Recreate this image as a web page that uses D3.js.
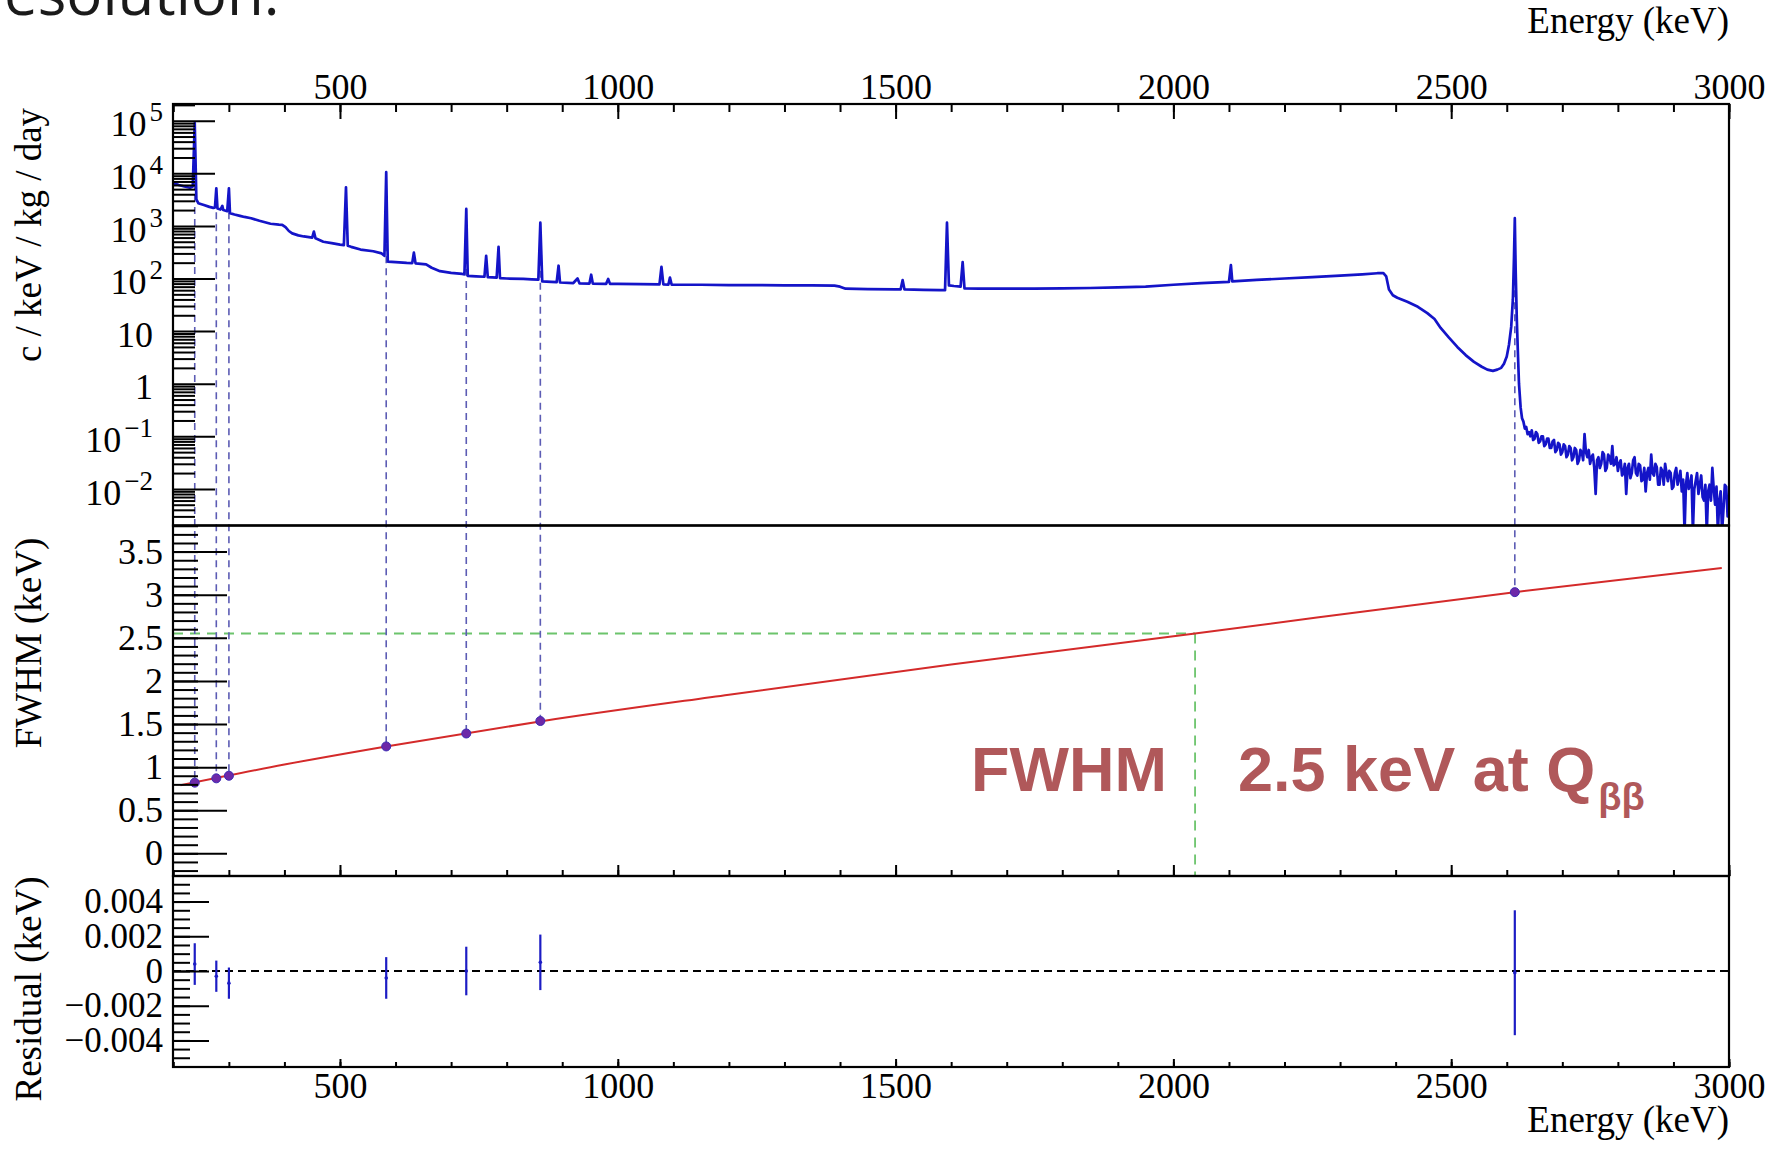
<!DOCTYPE html>
<html>
<head>
<meta charset="utf-8">
<script src="https://cdn.jsdelivr.net/npm/d3@7"></script>
<style>
  body { margin: 0; background: #fff; }
</style>
</head>
<body>
<div id="chart"></div>
<script>
////////////////////////////////////////////////////////////////////////
// Data

// Th-228 calibration spectrum: energy (keV) and counts (c/keV/kg/day)
let specE = [200, 210, 220, 230, 235, 238.6, 241.5, 245, 255, 265, 272, 275, 277.4, 279.5,
  285, 288.2, 290, 297, 300.1, 302, 310, 320, 328, 340, 355, 375, 390, 396, 402, 408, 414,
  425, 435, 450, 453, 456, 470, 485, 500, 507, 510.8, 514, 520, 537, 560, 575, 580, 583.2,
  586, 600, 620, 630, 633, 636, 655, 665, 680, 700, 720, 724, 727.3, 730, 745, 760, 763.1,
  766, 782, 785.4, 788, 800, 830, 845, 857, 860.6, 864, 880, 890, 893.4, 896, 920, 927.6,
  931, 949, 952.1, 955, 979, 982.7, 986, 1000, 1040, 1075, 1078.6, 1082, 1091, 1093.9, 1097,
  1150, 1200, 1250, 1300, 1350, 1390, 1400, 1410, 1450, 1500, 1509, 1512.7, 1516, 1550,
  1580, 1589, 1592.5, 1596, 1605, 1617, 1620.7, 1624, 1650, 1700, 1750, 1800, 1850, 1900,
  1950, 2000, 2050, 2100, 2103.5, 2106, 2150, 2200, 2250, 2300, 2340, 2367, 2378, 2383,
  2388, 2395, 2403, 2421, 2440, 2457, 2470, 2481, 2496, 2511, 2526, 2541, 2555, 2565, 2575,
  2583, 2590, 2595, 2600, 2604, 2608, 2611, 2613, 2614.5, 2616, 2618, 2620, 2622];
let specC = [6500, 6000, 5600, 5300, 5600, 90000, 3200, 2700, 2500, 2300, 2200, 2250, 5200, 2150,
  2050, 2400, 2000, 1900, 5200, 1750, 1650, 1550, 1480, 1400, 1250, 1100, 1060, 1050, 950, 800, 720,
  660, 630, 600, 780, 580, 500, 470, 440, 430, 5400, 420, 400, 355, 330, 300, 270, 10500,
  210, 205, 198, 196, 310, 194, 185, 160, 138, 128, 122, 120, 2100, 112, 110, 108, 270,
  106, 104, 400, 102, 100, 98, 96, 95, 1150, 88, 86, 85, 175, 84, 82, 100,
  81, 80, 118, 80, 79, 98, 79, 79, 78, 77, 166, 77, 76, 104, 76,
  76, 75, 75, 74, 74, 73, 70, 64, 63, 62, 62, 93, 62, 61,
  60, 60, 1150, 74, 72, 70, 205, 65, 64, 64, 64, 65, 66, 68,
  70, 76, 82, 86, 180, 88, 94, 100, 106, 113, 120, 126, 126, 110,
  62, 48, 43, 36, 29, 22, 17, 11.5, 7.5, 5.0, 3.5, 2.6, 2.1, 1.85, 1.75,
  1.85, 2.0, 2.4, 3.3, 5.5, 12, 40, 250, 1400, 150, 18, 4, 1.0];

// noisy tail above the 2614 keV line, 2.5 keV bins from 2625 to 3000 keV
let tailStart = 2625, tailStep = 2.5;
let tailC = [
  0.35, 0.22, 0.19, 0.14, 0.15, 0.11, 0.12, 0.10, 0.13, 0.085,
  0.09, 0.12, 0.11, 0.075, 0.08, 0.10, 0.10, 0.065, 0.07, 0.09,
  0.09, 0.06, 0.06, 0.08, 0.085, 0.05, 0.055, 0.075, 0.07, 0.045,
  0.05, 0.07, 0.065, 0.04, 0.045, 0.065, 0.06, 0.035, 0.04, 0.06,
  0.055, 0.03, 0.035, 0.055, 0.05, 0.035, 0.11, 0.05, 0.04, 0.055,
  0.03, 0.04, 0.045, 0.025, 0.008, 0.035, 0.04, 0.025, 0.03, 0.05,
  0.045, 0.022, 0.025, 0.045, 0.04, 0.03, 0.065, 0.028, 0.03, 0.04,
  0.022, 0.03, 0.035, 0.018, 0.02, 0.03, 0.008, 0.025, 0.03, 0.016,
  0.02, 0.035, 0.04, 0.02, 0.018, 0.03, 0.028, 0.014, 0.015, 0.025,
  0.009, 0.02, 0.025, 0.015, 0.045, 0.02, 0.018, 0.03, 0.026, 0.012,
  0.012, 0.025, 0.022, 0.012, 0.03, 0.02, 0.014, 0.022, 0.02, 0.01,
  0.011, 0.02, 0.025, 0.012, 0.016, 0.022, 0.009, 0.015, 0.0015, 0.012,
  0.02, 0.01, 0.012, 0.018, 0.0015, 0.01, 0.014, 0.02, 0.008, 0.012,
  0.018, 0.007, 0.006, 0.012, 0.0015, 0.009, 0.012, 0.006, 0.025, 0.01,
  0.005, 0.011, 0.0015, 0.006, 0.009, 0.0015, 0.004, 0.012, 0.011, 0.003,
  0.004];

// calibration peaks used for the resolution curve
let calE = [238.6, 277.4, 300.1, 583.2, 727.3, 860.6, 2614.5];
let calTop = [90000, 5200, 5200, 10500, 2100, 1150, 1400];
let calFwhm = [0.82, 0.87, 0.90, 1.24, 1.39, 1.535, 3.03];
let calRes = [0.0004, -0.0003, -0.0007, -0.0004, 0.0000, 0.0005, -0.0001];
let calResErr = [0.0012, 0.0009, 0.0009, 0.0012, 0.0014, 0.0016, 0.0036];

// fitted resolution curve
let fitE = [213, 400, 583, 860, 1200, 1600, 2039, 2614, 2987];
let fitW = [0.79, 1.03, 1.24, 1.53, 1.84, 2.19, 2.55, 3.03, 3.31];

// Q-beta-beta marker
let qbbE = 2039;
let qbbW = 2.55;

// tick labels
let xTicks = [500, 1000, 1500, 2000, 2500, 3000];
let logTicks = [1e5, 1e4, 1e3, 1e2, 10, 1, 0.1, 0.01];
let logLabels = [["10", "5"], ["10", "4"], ["10", "3"], ["10", "2"], ["10", ""], ["1", ""], ["10", "\u22121"], ["10", "\u22122"]];
let fwhmTicks = [0, 0.5, 1, 1.5, 2, 2.5, 3, 3.5];
let fwhmLabels = ["0", "0.5", "1", "1.5", "2", "2.5", "3", "3.5"];
let resTicks = [0.004, 0.002, 0, -0.002, -0.004];
let resLabels = ["0.004", "0.002", "0", "\u22120.002", "\u22120.004"];

////////////////////////////////////////////////////////////////////////
// Layout and scales

let width = 1770;
let height = 1162;
let serif = "'Liberation Serif', 'Times New Roman', serif";

let left = 173, right = 1729;
let topY = 104, sep1 = 525.5, sep2 = 876, bottomY = 1067;

let svg = d3.select("#chart")
  .append("svg")
  .attr("width", width).attr("height", height)
  .style("background", "#fff");

let xScale = d3.scaleLinear().domain([200, 3000]).range([173.3, right]);
let yTop = d3.scaleLog().domain([0.002014, 2.078e5]).range([sep1, topY]);
let yMid = d3.scaleLinear().domain([-0.263, 3.803]).range([sep2, sep1]);
let yRes = d3.scaleLinear().domain([-0.005533, 0.005476]).range([bottomY, sep2]);

// slide text cut at the top of the picture
svg.append("text")
  .attr("x", 4).attr("y", 15)
  .attr("font-family", "'Open Sans', 'Noto Sans', sans-serif")
  .attr("font-size", 60)
  .attr("fill", "#1a1a1a")
  .text("esolution.");

////////////////////////////////////////////////////////////////////////
// Guide lines (drawn first so the ticks and curves sit on top)

// green Qbb lines
svg.append("line")
  .attr("x1", left).attr("x2", xScale(qbbE))
  .attr("y1", yMid(qbbW)).attr("y2", yMid(qbbW))
  .attr("stroke", "#6cc46c").attr("stroke-width", 1.8)
  .attr("stroke-dasharray", "10,7");
svg.append("line")
  .attr("x1", xScale(qbbE)).attr("x2", xScale(qbbE))
  .attr("y1", yMid(qbbW)).attr("y2", sep2)
  .attr("stroke", "#6cc46c").attr("stroke-width", 1.8)
  .attr("stroke-dasharray", "10,7");

// dashed lines from each calibration peak down to its FWHM point
svg.append("g")
  .selectAll("line")
  .data(calE)
  .enter()
  .append("line")
  .attr("x1", d => xScale(d)).attr("x2", d => xScale(d))
  .attr("y1", (d, i) => yTop(calTop[i]))
  .attr("y2", (d, i) => yMid(calFwhm[i]))
  .attr("stroke", "#5c5cb4").attr("stroke-width", 1.6)
  .attr("stroke-dasharray", "7,5");

////////////////////////////////////////////////////////////////////////
// Top panel: spectrum

svg.append("clipPath").attr("id", "clipTop")
  .append("rect")
  .attr("x", left).attr("y", topY)
  .attr("width", right - left).attr("height", sep1 - topY);

let specData = specE.map((e, i) => [e, specC[i]])
  .concat(tailC.map((c, i) => [tailStart + i * tailStep, c]));

let specLine = d3.line()
  .x(d => xScale(d[0]))
  .y(d => yTop(d[1]));

svg.append("path")
  .datum(specData)
  .attr("clip-path", "url(#clipTop)")
  .attr("d", specLine)
  .attr("fill", "none")
  .attr("stroke", "#1414c8")
  .attr("stroke-width", 2.7)
  .attr("stroke-linejoin", "round");

////////////////////////////////////////////////////////////////////////
// Middle panel: FWHM and fit

let fitLine = d3.line()
  .curve(d3.curveMonotoneX)
  .x(d => xScale(d[0]))
  .y(d => yMid(d[1]));

svg.append("path")
  .datum(fitE.map((e, i) => [e, fitW[i]]))
  .attr("d", fitLine)
  .attr("fill", "none")
  .attr("stroke", "#d42a2a")
  .attr("stroke-width", 2);

svg.append("g")
  .selectAll("circle")
  .data(calE)
  .enter()
  .append("circle")
  .attr("cx", d => xScale(d))
  .attr("cy", (d, i) => yMid(calFwhm[i]))
  .attr("r", 4.5)
  .attr("fill", "#6d28a8")
  .attr("stroke", "#3c2ab4")
  .attr("stroke-width", 1);

// annotation
svg.append("text")
  .attr("x", 971).attr("y", 791)
  .attr("font-family", "'Liberation Sans', Arial, sans-serif")
  .attr("font-weight", "bold")
  .attr("font-size", 63)
  .attr("fill", "#b0585a")
  .text("FWHM");
let ann = svg.append("text")
  .attr("x", 1238).attr("y", 791)
  .attr("font-family", "'Liberation Sans', Arial, sans-serif")
  .attr("font-weight", "bold")
  .attr("font-size", 63)
  .attr("fill", "#b0585a");
ann.append("tspan").text("2.5 keV at Q");
ann.append("tspan").attr("dy", 19).attr("dx", 3).attr("font-size", 38).text("\u03b2\u03b2");

////////////////////////////////////////////////////////////////////////
// Bottom panel: residuals

svg.append("line")
  .attr("x1", left).attr("x2", right)
  .attr("y1", yRes(0)).attr("y2", yRes(0))
  .attr("stroke", "#000").attr("stroke-width", 1.8)
  .attr("stroke-dasharray", "8,5");

let resG = svg.append("g");
resG.selectAll("line")
  .data(calE)
  .enter()
  .append("line")
  .attr("x1", d => xScale(d)).attr("x2", d => xScale(d))
  .attr("y1", (d, i) => yRes(calRes[i] + calResErr[i]))
  .attr("y2", (d, i) => yRes(calRes[i] - calResErr[i]))
  .attr("stroke", "#1c1cc4").attr("stroke-width", 2.2);
resG.selectAll("circle")
  .data(calE)
  .enter()
  .append("circle")
  .attr("cx", d => xScale(d))
  .attr("cy", (d, i) => yRes(calRes[i]))
  .attr("r", 1.8)
  .attr("fill", "#1c1cc4");

////////////////////////////////////////////////////////////////////////
// Axes

function styleAxis(g, size) {
  g.attr("font-family", serif).attr("font-size", size);
  g.select(".domain").remove();
  g.selectAll(".tick line").attr("stroke", "#000").attr("stroke-width", 2);
  g.selectAll(".tick text").attr("fill", "#000");
}

// x tick positions: minor every 100 keV
let xMinor = d3.range(2, 31).map(i => i * 100);

// top axis with labels
styleAxis(svg.append("g").attr("transform", `translate(0,${topY})`)
  .call(d3.axisTop(xScale).tickValues(xMinor).tickSize(-8).tickFormat("")), 36);
styleAxis(svg.append("g").attr("transform", `translate(0,${topY})`)
  .call(d3.axisTop(xScale).tickValues(xTicks).tickSize(-15).tickPadding(5).tickFormat(d3.format("d"))), 36);

// middle panel bottom axis, no labels
styleAxis(svg.append("g").attr("transform", `translate(0,${sep2})`)
  .call(d3.axisBottom(xScale).tickValues(xMinor).tickSize(-6).tickFormat("")), 36);
styleAxis(svg.append("g").attr("transform", `translate(0,${sep2})`)
  .call(d3.axisBottom(xScale).tickValues(xTicks).tickSize(-11).tickFormat("")), 36);

// bottom axis with labels
styleAxis(svg.append("g").attr("transform", `translate(0,${bottomY})`)
  .call(d3.axisBottom(xScale).tickValues(xMinor).tickSize(-5).tickFormat("")), 36);
styleAxis(svg.append("g").attr("transform", `translate(0,${bottomY})`)
  .call(d3.axisBottom(xScale).tickValues(xTicks).tickSize(-8).tickPadding(5).tickFormat(d3.format("d"))), 36);

// log axis on the spectrum
let logMinor = [];
for (let n = -3; n <= 5; n++) {
  for (let k = 2; k <= 9; k++) {
    let v = k * Math.pow(10, n);
    if (v > 0.00202 && v < 2.07e5) logMinor.push(v);
  }
}
styleAxis(svg.append("g").attr("transform", `translate(${left},0)`)
  .call(d3.axisLeft(yTop).tickValues(logMinor).tickSize(-22).tickFormat("")), 36);
let logAxis = svg.append("g").attr("transform", `translate(${left},0)`)
  .call(d3.axisLeft(yTop).tickValues(logTicks).tickSize(-42).tickPadding(10).tickFormat(""));
styleAxis(logAxis, 36);
logAxis.selectAll(".tick text").each(function(d, i) {
  let t = d3.select(this).attr("dy", "0.42em");
  let lab = logLabels[i];
  // labels without a positive exponent sit a bit further left
  if (lab[1] === "" || lab[1][0] === "\u2212") t.attr("dx", -10);
  t.append("tspan").text(lab[0]);
  if (lab[1] !== "") {
    t.append("tspan").attr("dx", 3).attr("dy", -15).attr("font-size", 27).text(lab[1]);
  }
});

// FWHM axis
let fwhmMinor = d3.range(-2, 39).map(i => i / 10);
styleAxis(svg.append("g").attr("transform", `translate(${left},0)`)
  .call(d3.axisLeft(yMid).tickValues(fwhmMinor).tickSize(-25).tickFormat("")), 36);
styleAxis(svg.append("g").attr("transform", `translate(${left},0)`)
  .call(d3.axisLeft(yMid).tickValues(fwhmTicks).tickSize(-54).tickPadding(10)
    .tickFormat((d, i) => fwhmLabels[i])), 36);

// residual axis
let resMinor = d3.range(-10, 11).map(i => i * 0.0005);
styleAxis(svg.append("g").attr("transform", `translate(${left},0)`)
  .call(d3.axisLeft(yRes).tickValues(resMinor).tickSize(-17).tickFormat("")), 35);
styleAxis(svg.append("g").attr("transform", `translate(${left},0)`)
  .call(d3.axisLeft(yRes).tickValues(resTicks).tickSize(-36).tickPadding(10)
    .tickFormat((d, i) => resLabels[i])), 35);

////////////////////////////////////////////////////////////////////////
// Frames

let frames = [[topY, sep1], [sep1, sep2], [sep2, bottomY]];
svg.append("g")
  .selectAll("rect")
  .data(frames)
  .enter()
  .append("rect")
  .attr("x", left).attr("y", d => d[0])
  .attr("width", right - left).attr("height", d => d[1] - d[0])
  .attr("fill", "none")
  .attr("stroke", "#000")
  .attr("stroke-width", 2.2);

////////////////////////////////////////////////////////////////////////
// Titles

svg.append("text")
  .attr("x", right).attr("y", 33)
  .attr("text-anchor", "end")
  .attr("font-family", serif).attr("font-size", 37)
  .text("Energy (keV)");
svg.append("text")
  .attr("x", right).attr("y", 1132)
  .attr("text-anchor", "end")
  .attr("font-family", serif).attr("font-size", 37)
  .text("Energy (keV)");

let yTitles = [["c / keV / kg / day", 235], ["FWHM (keV)", 643], ["Residual (keV)", 989]];
svg.append("g")
  .selectAll("text")
  .data(yTitles)
  .enter()
  .append("text")
  .attr("transform", d => `translate(41,${d[1]}) rotate(-90)`)
  .attr("text-anchor", "middle")
  .attr("font-family", serif).attr("font-size", 37)
  .text(d => d[0]);
</script>
</body>
</html>
